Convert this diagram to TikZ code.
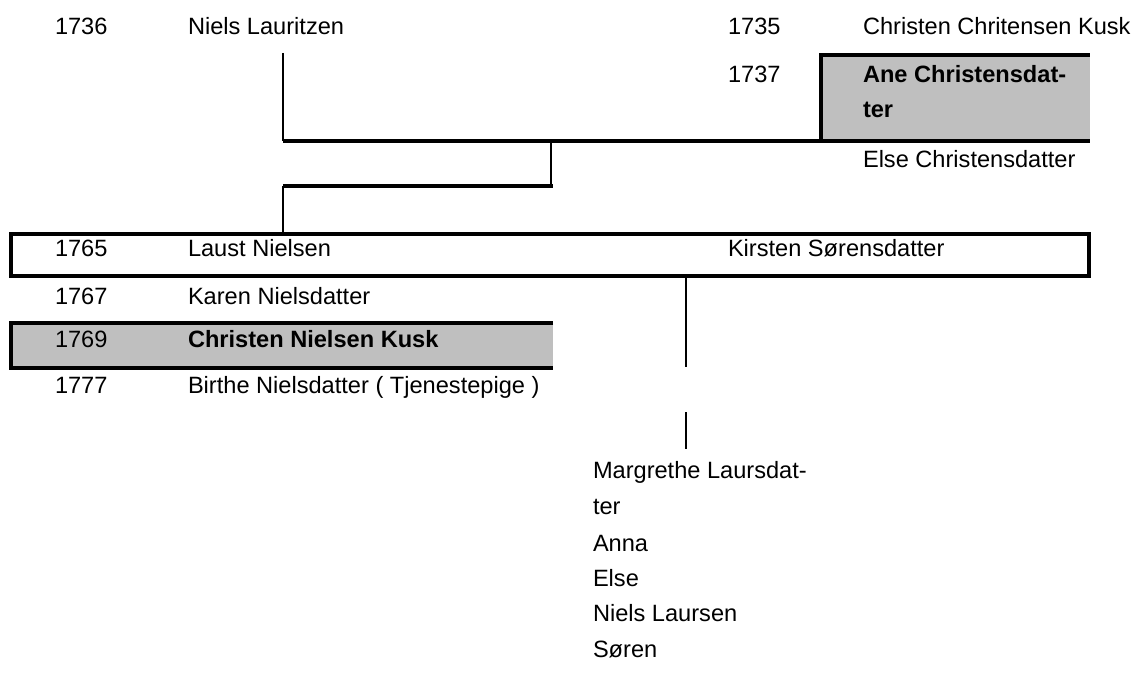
\documentclass[tikz,border=0pt]{standalone}
\usepackage{fontspec}
\setmainfont{Liberation Sans}
\begin{document}
\begin{tikzpicture}[x=0.75pt,y=-0.75pt,
  txt/.style={anchor=base west,inner sep=0pt,outer sep=0pt,font=\fontsize{17.7pt}{21pt}\selectfont},
  btxt/.style={txt,font=\fontsize{17.7pt}{21pt}\selectfont\bfseries},
  heavy/.style={line width=2.4pt},
  light/.style={line width=1.5pt},
  shade/.style={fill=gray!50}]
\useasboundingbox (0,0) rectangle (1139,684);
% gray highlight areas
\fill[shade] (819,54) rectangle (1090,141);
\fill[shade] (10,322) rectangle (553,369);
% top generation
\node[txt] (y1736) at (55,35) {1736};
\node[txt] (niels) at (188,35) {Niels Lauritzen};
\node[txt] (y1735) at (728,35) {1735};
\node[txt] (christen1) at (863,35) {Christen Chritensen Kusk};
\node[txt] (y1737) at (728,83) {1737};
\node[btxt] (ane1) at (863,83) {Ane Christensdat-};
\node[btxt] (ane2) at (863,118) {ter};
\node[txt] (else1) at (863,168) {Else Christensdatter};
% Ane box borders
\coordinate (aneTL) at (821,55);
\coordinate (aneTR) at (1090,55);
\coordinate (aneBL) at (821,141);
\draw[heavy] (aneBL) -- (aneTL) -- (aneTR);
% connectors parents -> child
\coordinate (nielsLine) at (283,53);
\coordinate (joinL) at (283,141);
\coordinate (joinR) at (1090,141);
\coordinate (midTop) at (551,141);
\coordinate (midBot) at (551,186);
\coordinate (childR) at (553,186);
\coordinate (childL) at (283,186);
\coordinate (childDown) at (283,233);
\draw[light] (nielsLine) -- (joinL);
\draw[heavy] (joinL) -- (joinR);
\draw[light] (midTop) -- (midBot);
\draw[heavy] (childL) -- (childR);
\draw[light] (childL) -- (childDown);
% Laust box
\coordinate (lbTL) at (11,234);
\coordinate (lbBR) at (1089,276);
\draw[heavy] (lbTL) rectangle (lbBR);
\node[txt] (y1765) at (55,257) {1765};
\node[txt] (laust) at (188,257) {Laust Nielsen};
\node[txt] (kirsten) at (728,257) {Kirsten Sørensdatter};
\node[txt] (y1767) at (55,305) {1767};
\node[txt] (karen) at (188,305) {Karen Nielsdatter};
% Christen Nielsen Kusk box
\coordinate (cbTL) at (11,323);
\coordinate (cbTR) at (553,323);
\coordinate (cbBL) at (11,368);
\coordinate (cbBR) at (553,368);
\draw[heavy] (cbTR) -- (cbTL) -- (cbBL) -- (cbBR);
\node[txt] (y1769) at (55,348) {1769};
\node[btxt] (christen2) at (188,348) {Christen Nielsen Kusk};
\node[txt] (y1777) at (55,393) {1777};
\node[txt] (birthe) at (188,393) {Birthe Nielsdatter ( Tjenestepige )};
% children of Laust and Kirsten
\coordinate (kidsTop) at (686,277);
\coordinate (kidsGap1) at (686,367);
\coordinate (kidsGap2) at (686,412);
\coordinate (kidsBot) at (686,449);
\draw[light] (kidsTop) -- (kidsGap1);
\draw[light] (kidsGap2) -- (kidsBot);
\node[txt] (marg1) at (593,478) {Margrethe Laursdat-};
\node[txt] (marg2) at (593,514) {ter};
\node[txt] (anna) at (593,551) {Anna};
\node[txt] (else2) at (593,586) {Else};
\node[txt] (nielsL) at (593,621) {Niels Laursen};
\node[txt] (soren) at (593,657) {Søren};
\end{tikzpicture}
\end{document}
